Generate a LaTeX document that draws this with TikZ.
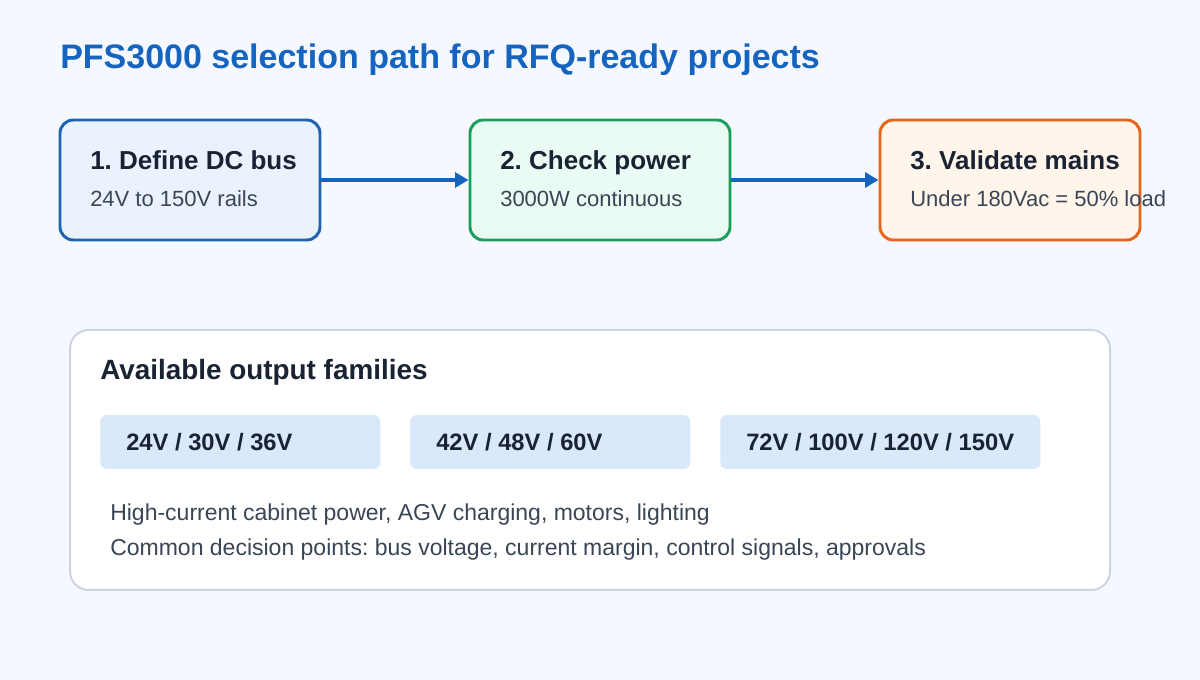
\documentclass[tikz,border=0pt]{standalone}
\usepackage{fontspec}
\setmainfont{Liberation Sans}
\usetikzlibrary{arrows.meta, positioning}
\definecolor{bg}{HTML}{F5F9FF}
\definecolor{titleblue}{HTML}{1565C0}
\definecolor{ink}{HTML}{1A2333}
\definecolor{muted}{HTML}{3A4555}
\definecolor{chipfill}{HTML}{DAE8FC}
\definecolor{panelline}{HTML}{CDD5E0}
\definecolor{busline}{HTML}{1E63B0}
\definecolor{busfill}{HTML}{EAF2FE}
\definecolor{powerline}{HTML}{1A9E5A}
\definecolor{powerfill}{HTML}{EAFBF3}
\definecolor{mainsline}{HTML}{E8641A}
\definecolor{mainsfill}{HTML}{FFF5EB}
\tikzstyle{stepbox} = [draw, line width=2.2pt, rounded corners=10pt, minimum width=195pt, minimum height=90pt]
\tikzstyle{busstep} = [stepbox, draw=busline, fill=busfill]
\tikzstyle{powerstep} = [stepbox, draw=powerline, fill=powerfill]
\tikzstyle{mainsstep} = [stepbox, draw=mainsline, fill=mainsfill]
\tikzstyle{heading} = [anchor=base west, inner sep=0pt, font=\bfseries\fontsize{19.5}{23}\selectfont, text=ink]
\tikzstyle{note} = [anchor=base west, inner sep=0pt, font=\fontsize{16.5}{19}\selectfont, text=muted]
\tikzstyle{chip} = [fill=chipfill, rounded corners=5pt, minimum height=40.5pt]
\tikzstyle{chiptext} = [anchor=base west, inner sep=0pt, font=\bfseries\fontsize{17.8}{21}\selectfont, text=ink]
\tikzstyle{link} = [-{Triangle[length=10pt, width=11pt]}, line width=3pt, titleblue]
\begin{document}
\frenchspacing
\begin{tikzpicture}[x=0.75pt, y=-0.75pt]
    \fill [bg] (0,0) rectangle (1200,680);
    \useasboundingbox (0,0) rectangle (1200,680);

    % Title.
    \node (title) [anchor=west, inner sep=0pt, font=\bfseries\fontsize{25.5}{30}\selectfont, text=titleblue] at (60,60) {PFS3000 selection path for RFQ-ready projects};

    % Steps.
    \node (bus) [busstep] at (190,180) {};
    \node (power) [powerstep] at (600,180) {};
    \node (mains) [mainsstep] at (1010,180) {};
    \node (bushead) [heading] at (90,170) {1. Define DC bus};
    \node (busnote) [note] at (90,207) {24V to 150V rails};
    \node (powerhead) [heading] at (500,170) {2. Check power};
    \node (powernote) [note] at (500,207) {3000W continuous};
    \node (mainshead) [heading] at (910,170) {3. Validate mains};
    \node (mainsnote) [note] at (910,207) {Under 180Vac = 50\% load};

    % Arrows.
    \draw [link] (bus) -- (power);
    \draw [link] (power) -- (mains);

    % Output families.
    \node (panel) [draw=panelline, line width=1.5pt, fill=white, rounded corners=14pt, minimum width=780pt, minimum height=195pt] at (590,460) {};
    \node (panelhead) [anchor=west, inner sep=0pt, font=\bfseries\fontsize{20.9}{24}\selectfont, text=ink] at (100,372) {Available output families};
    \foreach\i/\x/\w/\t in {1/100/210/{24V / 30V / 36V}, 2/410/210/{42V / 48V / 60V}, 3/720/240/{72V / 100V / 120V / 150V}} {
        \node (chip\i) [chip, anchor=west, minimum width=\w pt] at (\x,442) {};
        \node (chiptext\i) [chiptext] at (\x+26,451) {\t};
    }
    \node (uses) [note, font=\fontsize{17.25}{20}\selectfont] at (110,521) {High-current cabinet power, AGV charging, motors, lighting};
    \node (points) [note, font=\fontsize{17.25}{20}\selectfont] at (110,556) {Common decision points: bus voltage, current margin, control signals, approvals};
\end{tikzpicture}
\end{document}
